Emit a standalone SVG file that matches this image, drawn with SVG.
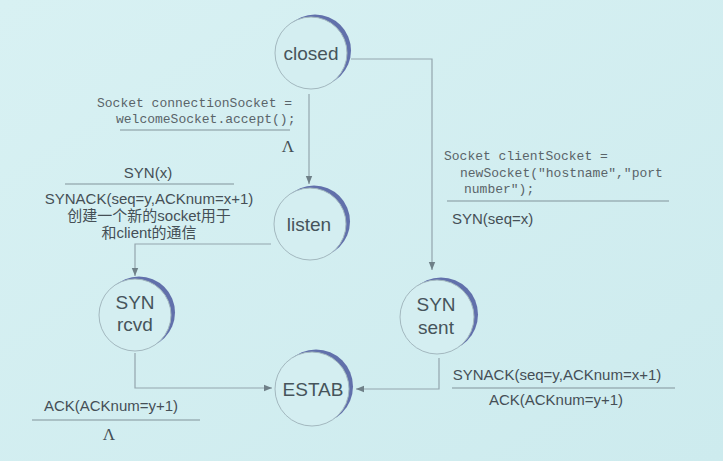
<svg xmlns="http://www.w3.org/2000/svg" width="723" height="461" viewBox="0 0 723 461">
  <defs>
    <marker id="arrow" viewBox="0 0 10 10" refX="10" refY="5" markerWidth="8" markerHeight="8" markerUnits="userSpaceOnUse" orient="auto">
      <path d="M0,1 L10,5 L0,9 Z" fill="#6f8088"/>
    </marker>
    <linearGradient id="bg" x1="0" y1="0" x2="1" y2="1">
      <stop offset="0" stop-color="#d8f1f3"/>
      <stop offset="1" stop-color="#cdebee"/>
    </linearGradient>
  </defs>
  <style>
    .ring { fill: #d4eef1; stroke: #a3b8bf; stroke-width: 1; }
    .crescent { fill: #6170ab; }
    .state { font-family: "Liberation Sans", Arial, sans-serif; font-size: 19px; fill: #46545b; text-anchor: middle; }
    .lbl { font-family: "Liberation Sans", "Noto Sans CJK SC", sans-serif; font-size: 15px; fill: #454f56; }
    .code { font-family: "Liberation Mono", "Courier New", monospace; font-size: 13px; fill: #5a6469; }
    .lam { font-family: "Liberation Serif", serif; font-size: 17px; fill: #454f56; text-anchor: middle; }
    .rule { stroke: #81939a; stroke-width: 1; fill: none; }
    .wire { stroke: #93a5ad; stroke-width: 1.2; fill: none; }
  </style>

  <rect width="723" height="461" fill="url(#bg)"/>

  <!-- transitions -->
  <g id="connectors">
    <path class="wire" d="M351,59 H432 V270" marker-end="url(#arrow)"/>
    <path class="wire" d="M309,94 V184" marker-end="url(#arrow)"/>
    <path class="wire" d="M271,244 H135 V276" marker-end="url(#arrow)"/>
    <path class="wire" d="M135,353 V388 H272" marker-end="url(#arrow)"/>
    <path class="wire" d="M439,358 V389 H356" marker-end="url(#arrow)"/>
  </g>

  <!-- states: a thin ring over an offset disc gives the shaded crescent -->
  <g id="closed">
    <circle class="crescent" cx="315" cy="50.5" r="36"/>
    <circle class="ring" cx="311" cy="53" r="36"/>
    <text class="state" x="311" y="60">closed</text>
  </g>
  <g id="listen">
    <circle class="crescent" cx="314" cy="221.5" r="36"/>
    <circle class="ring" cx="310" cy="224" r="36"/>
    <text class="state" x="309" y="231">listen</text>
  </g>
  <g id="syn-rcvd">
    <circle class="crescent" cx="139" cy="312.5" r="36"/>
    <circle class="ring" cx="135" cy="315" r="36"/>
    <text class="state" x="135" y="309">SYN</text>
    <text class="state" x="135" y="331">rcvd</text>
  </g>
  <g id="syn-sent">
    <circle class="crescent" cx="441" cy="314.5" r="37"/>
    <circle class="ring" cx="437" cy="317" r="37"/>
    <text class="state" x="436" y="311">SYN</text>
    <text class="state" x="436" y="334">sent</text>
  </g>
  <g id="estab">
    <circle class="crescent" cx="316" cy="386.5" r="37"/>
    <circle class="ring" cx="312" cy="389" r="37"/>
    <text class="state" x="313" y="396">ESTAB</text>
  </g>

  <!-- closed -> listen -->
  <g id="label-accept">
    <text class="code" x="97" y="107">Socket connectionSocket =</text>
    <text class="code" x="116" y="123">welcomeSocket.accept();</text>
    <line class="rule" x1="120" y1="130" x2="290" y2="130"/>
    <text class="lam" x="288" y="152">Λ</text>
  </g>

  <!-- listen -> SYN rcvd -->
  <g id="label-listen">
    <text class="lbl" x="148" y="178" text-anchor="middle" font-size="17">SYN(x)</text>
    <line class="rule" x1="65" y1="184" x2="234" y2="184"/>
    <text class="lbl" x="149" y="204" text-anchor="middle">SYNACK(seq=y,ACKnum=x+1)</text>
    <text class="lbl" x="149" y="221" text-anchor="middle">创建一个新的socket用于</text>
    <text class="lbl" x="149" y="238" text-anchor="middle">和client的通信</text>
  </g>

  <!-- closed -> SYN sent -->
  <g id="label-connect">
    <text class="code" x="444" y="160">Socket clientSocket =</text>
    <text class="code" x="460" y="177">newSocket("hostname","port</text>
    <text class="code" x="464" y="193">number");</text>
    <line class="rule" x1="447" y1="201" x2="669" y2="201"/>
    <text class="lbl" x="452" y="224" font-size="17.5">SYN(seq=x)</text>
  </g>

  <!-- SYN rcvd -> ESTAB -->
  <g id="label-rcvd">
    <text class="lbl" x="111" y="411" text-anchor="middle">ACK(ACKnum=y+1)</text>
    <line class="rule" x1="32" y1="420" x2="200" y2="420"/>
    <text class="lam" x="109" y="440">Λ</text>
  </g>

  <!-- SYN sent -> ESTAB -->
  <g id="label-sent">
    <text class="lbl" x="557" y="380" text-anchor="middle">SYNACK(seq=y,ACKnum=x+1)</text>
    <line class="rule" x1="452" y1="388" x2="675" y2="388"/>
    <text class="lbl" x="556" y="405" text-anchor="middle">ACK(ACKnum=y+1)</text>
  </g>
</svg>
